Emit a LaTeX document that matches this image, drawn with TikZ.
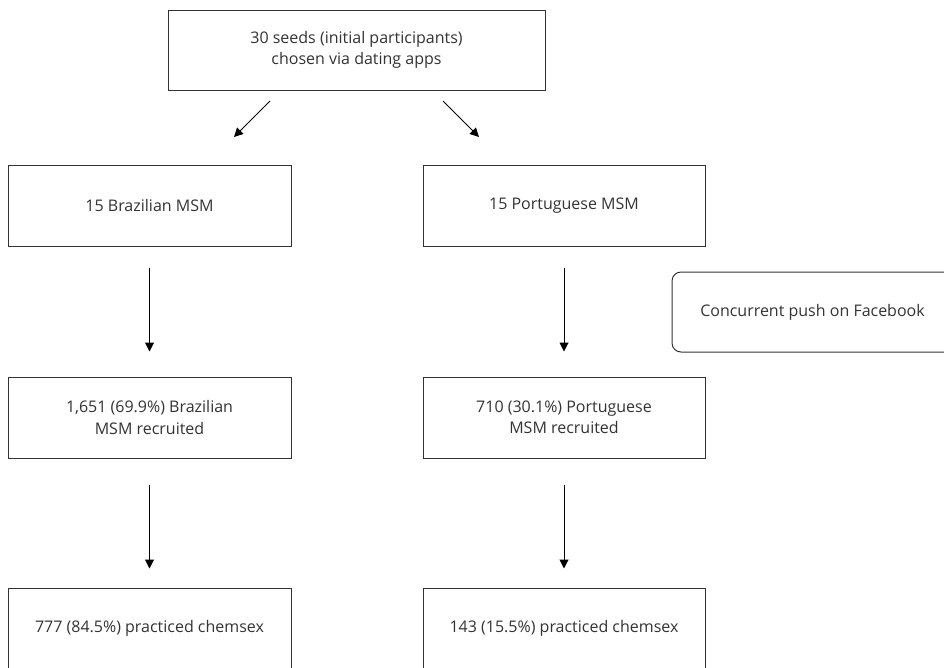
\documentclass[tikz,border=0pt]{standalone}
\usepackage{fontspec}
\setmainfont{Open Sans}
\usetikzlibrary{arrows.meta}
\definecolor{ink}{HTML}{333333}
\begin{document}
\begin{tikzpicture}[x=1pt,y=-1pt,
  box/.style={draw=ink, line width=1pt, text=ink, inner sep=0pt, align=center,
    font=\fontsize{16}{21.5}\selectfont},
  flow/.style={draw=black, line width=1pt, -{Triangle[length=9pt,width=9pt]}}]
\useasboundingbox (0,0) rectangle (944,667);
\clip (0,0) rectangle (944,667);
\node[box, minimum width=377pt, minimum height=80pt] (top) at (356.5,50)
  {30 seeds (initial participants)\\chosen via dating apps};
\node[box, minimum width=283pt, minimum height=81pt] (br) at (149.5,205.5) {15 Brazilian MSM};
\node[box, minimum width=282pt, minimum height=81pt] (pt) at (564,205.5) {15 Portuguese MSM};
\node[box, rounded corners=9pt, minimum width=281pt, minimum height=80pt] (fb) at (812.5,312) {Concurrent push on Facebook};
\node[box, minimum width=283pt, minimum height=81pt] (brm) at (149.5,417.5) {1,651 (69.9\%) Brazilian\\MSM recruited};
\node[box, minimum width=282pt, minimum height=81pt] (ptm) at (564,417.5) {710 (30.1\%) Portuguese\\MSM recruited};
\node[box, minimum width=283pt, minimum height=81pt] (brb) at (149.5,628.5) {777 (84.5\%) practiced chemsex};
\node[box, minimum width=282pt, minimum height=81pt] (ptb) at (564,628.5) {143 (15.5\%) practiced chemsex};
\coordinate (d1) at (270,101);
\coordinate (d2) at (234,137);
\coordinate (d3) at (443,101);
\coordinate (d4) at (479,137);
\draw[flow] (d1) -- (d2);
\draw[flow] (d3) -- (d4);
\draw[flow, shorten <=21pt, shorten >=25pt] (br.south) -- (brm.north);
\draw[flow, shorten <=21pt, shorten >=25pt] (pt.south) -- (ptm.north);
\draw[flow, shorten <=26pt, shorten >=19pt] (brm.south) -- (brb.north);
\draw[flow, shorten <=26pt, shorten >=19pt] (ptm.south) -- (ptb.north);
\end{tikzpicture}
\end{document}
